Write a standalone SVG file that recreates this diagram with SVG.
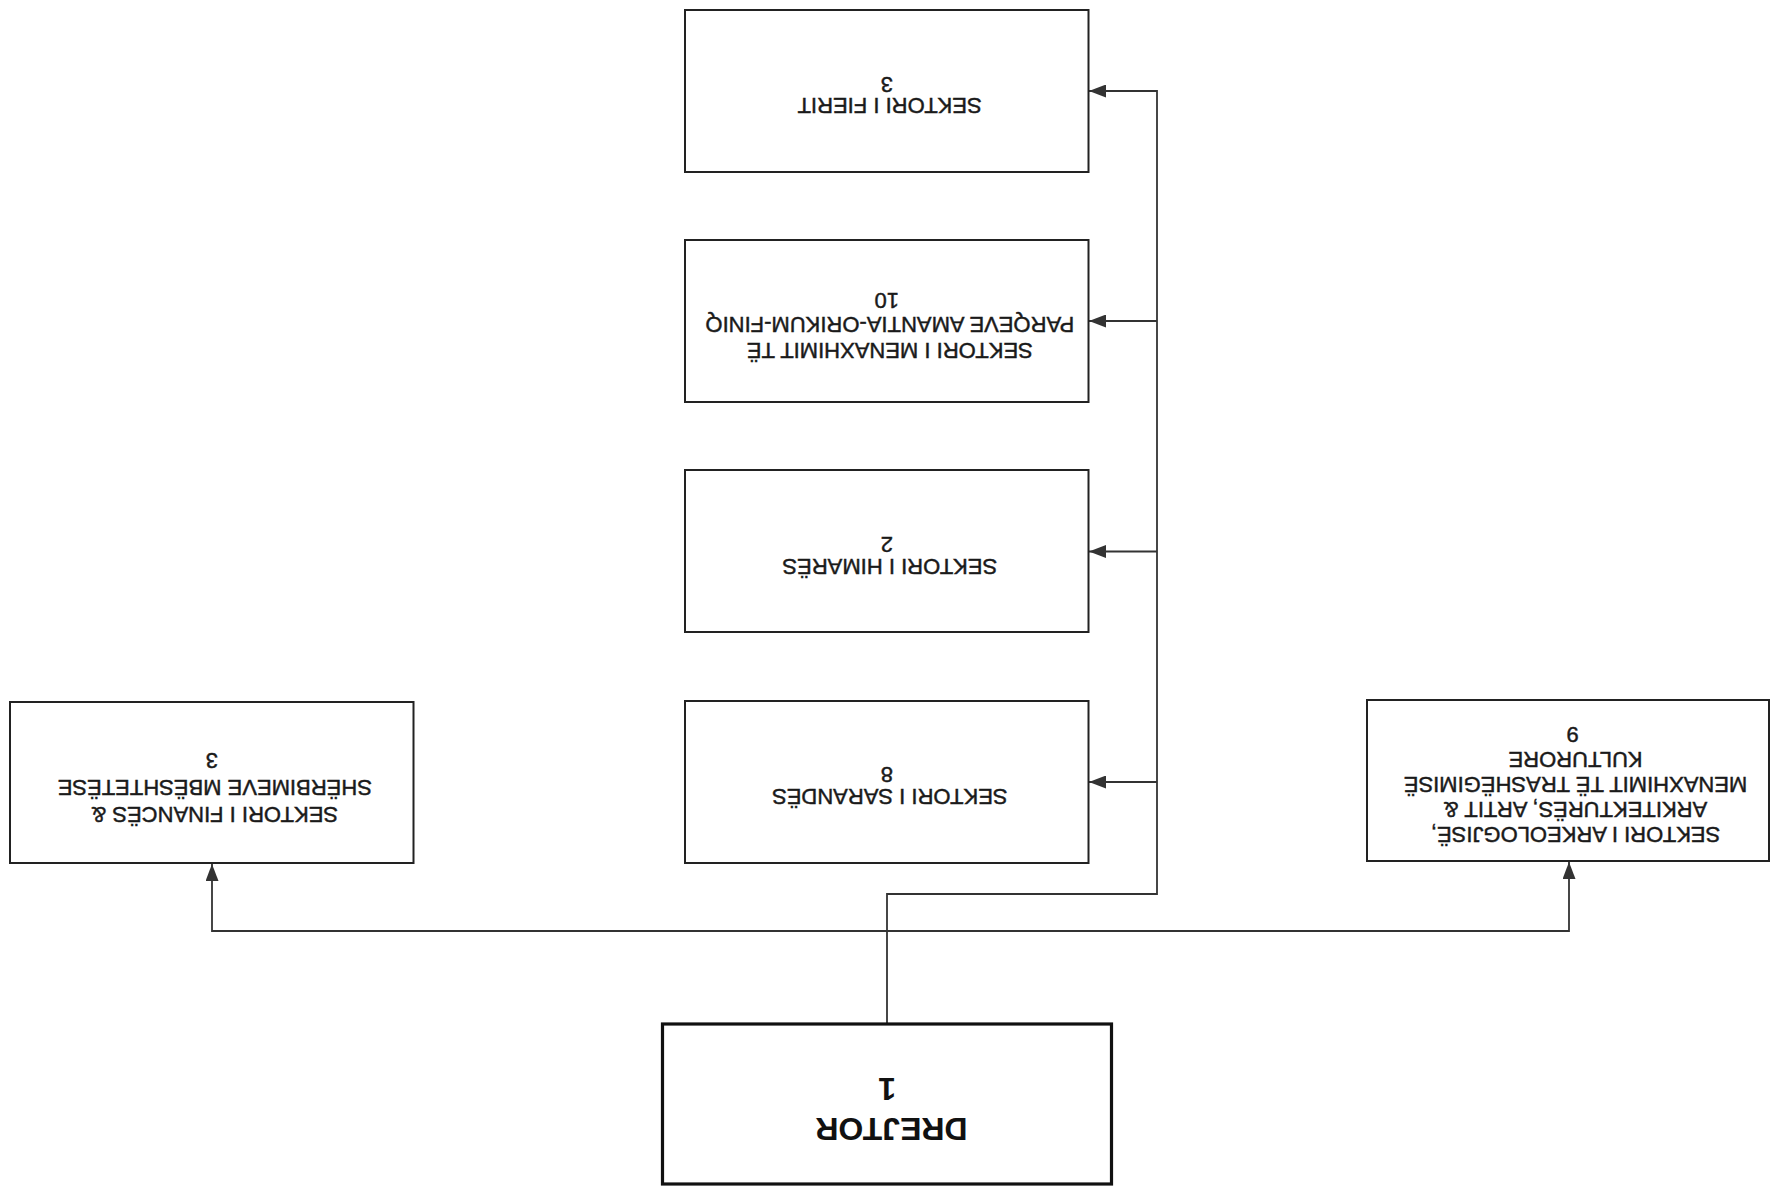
<svg xmlns="http://www.w3.org/2000/svg" width="1776" height="1194" viewBox="0 0 1776 1194">
  <defs>
    <marker id="arrow" markerUnits="userSpaceOnUse" markerWidth="17" markerHeight="13" refX="17" refY="6.5" orient="auto">
      <path d="M0,0 L17,6.5 L0,13 z" fill="#333"/>
    </marker>
    <style>
      .box { fill: #ffffff; stroke: #222; stroke-width: 2; }
      .boss { fill: #ffffff; stroke: #111; stroke-width: 3.2; }
      .lbl { font-family: "Liberation Sans", Arial, sans-serif; font-size: 22px; fill: #1a1a1a; stroke: #1a1a1a; stroke-width: 0.45; text-anchor: middle; }
      .big { font-family: "Liberation Sans", Arial, sans-serif; font-size: 32px; font-weight: bold; fill: #111; text-anchor: middle; }
      .conn { fill: none; stroke: #333; stroke-width: 1.8; }
    </style>
  </defs>
  <rect x="0" y="0" width="1776" height="1194" fill="#ffffff"/>

  <g id="connectors">
    <path class="conn" d="M887 1024 V894 H1157 V91 H1089" marker-end="url(#arrow)"/>
    <path class="conn" d="M1157 321 H1089" marker-end="url(#arrow)"/>
    <path class="conn" d="M1157 551.5 H1089" marker-end="url(#arrow)"/>
    <path class="conn" d="M1157 782 H1089" marker-end="url(#arrow)"/>
    <path class="conn" d="M887 931 H212 V864" marker-end="url(#arrow)"/>
    <path class="conn" d="M887 931 H1569 V862" marker-end="url(#arrow)"/>
  </g>

  <g id="node-fierit">
    <rect class="box" x="685" y="10" width="403.5" height="162"/>
    <text class="lbl" transform="rotate(180 886.75 91)">
      <tspan x="886.75" y="83.7">SEKTORI I FIERIT</tspan>
      <tspan x="886.75" y="105.3">3</tspan>
    </text>
  </g>

  <g id="node-parqeve">
    <rect class="box" x="685" y="240" width="403.5" height="162"/>
    <text class="lbl" transform="rotate(180 886.75 321)">
      <tspan x="886.75" y="298.7">SEKTORI I MENAXHIMIT TË</tspan>
      <tspan x="886.75" y="325.3">PARQEVE AMANTIA-ORIKUM-FINIQ</tspan>
      <tspan x="886.75" y="348.7">10</tspan>
    </text>
  </g>

  <g id="node-himare">
    <rect class="box" x="685" y="470" width="403.5" height="162"/>
    <text class="lbl" transform="rotate(180 886.75 551)">
      <tspan x="886.75" y="543.5">SEKTORI I HIMARËS</tspan>
      <tspan x="886.75" y="565">2</tspan>
    </text>
  </g>

  <g id="node-sarande">
    <rect class="box" x="685" y="701" width="403.5" height="162"/>
    <text class="lbl" transform="rotate(180 886.75 782)">
      <tspan x="886.75" y="775">SEKTORI I SARANDËS</tspan>
      <tspan x="886.75" y="796.6">8</tspan>
    </text>
  </g>

  <g id="node-finance">
    <rect class="box" x="10" y="702" width="403.5" height="161"/>
    <text class="lbl" transform="rotate(180 211.75 782.5)">
      <tspan x="211.75" y="758.3">SEKTORI I FINANCËS &amp;</tspan>
      <tspan x="211.75" y="785">SHËRBIMEVE MBËSHTETËSE</tspan>
      <tspan x="211.75" y="811.7">3</tspan>
    </text>
  </g>

  <g id="node-arkeologji">
    <rect class="box" x="1367" y="700" width="402" height="161"/>
    <text class="lbl" transform="rotate(180 1568 780.5)">
      <tspan x="1563.5" y="734.3">SEKTORI I ARKEOLOGJISË,</tspan>
      <tspan x="1563.5" y="759.3">ARKITEKTURËS, ARTIT &amp;</tspan>
      <tspan x="1563.5" y="784.3">MENAXHIMIT TË TRASHËGIMISË</tspan>
      <tspan x="1563.5" y="809.3">KULTURORE</tspan>
      <tspan x="1563.5" y="834.3">9</tspan>
    </text>
  </g>

  <g id="node-drejtor">
    <rect class="boss" x="662.5" y="1024" width="449" height="160"/>
    <text class="big" transform="rotate(180 887 1104)">
      <tspan x="887" y="1090">DREJTOR</tspan>
      <tspan x="887" y="1130">1</tspan>
    </text>
  </g>
</svg>
